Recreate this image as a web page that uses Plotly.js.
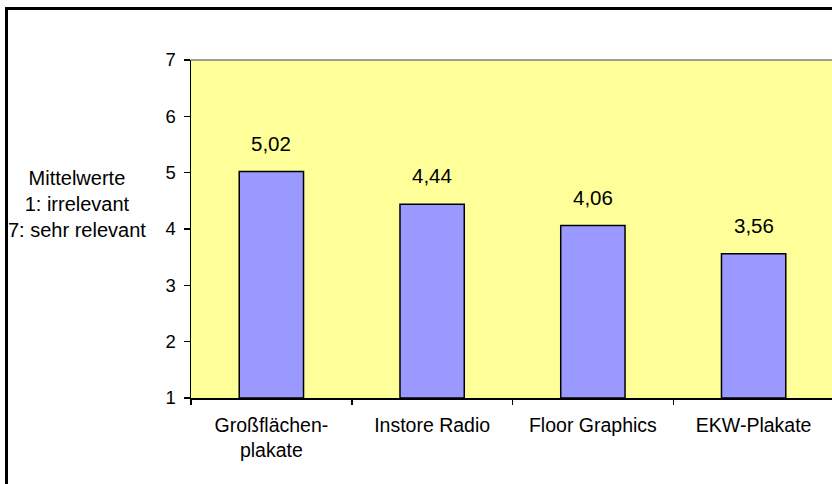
<!DOCTYPE html>
<html><head><meta charset="utf-8">
<script src="https://cdn.plot.ly/plotly-3.0.1.min.js"></script>
<style>
html,body{margin:0;padding:0;overflow:hidden;width:832px;height:484px;background:#fff;}
#chart{position:absolute;left:0;top:0;width:836px;height:484px;}
#frame{position:absolute;left:5px;top:7px;width:900px;height:600px;border:3px solid #000;pointer-events:none;}
</style></head><body>
<div id="chart"></div><div id="frame"></div>
<script>
const categories = ["Großflächen-<br>plakate", "Instore Radio", "Floor Graphics", "EKW-Plakate"];
const values = [5.02, 4.44, 4.06, 3.56];
const yTickVals = [1, 2, 3, 4, 5, 6, 7];
const yTitleLines = ["Mittelwerte", "1: irrelevant", "7: sehr relevant"];

const FONT = "Liberation Sans, Arial, sans-serif";
const fmt = v => v.toFixed(2).replace('.', ',');

const trace = {
  type: 'bar',
  x: categories,
  y: values.map(v => v - 1),
  base: 1,
  width: 0.4,
  marker: {color: '#9999FF', line: {color: '#000000', width: 1.5}},
  hoverinfo: 'skip'
};

const annotations = values.map((v, i) => ({
  x: categories[i], y: v, xref: 'x', yref: 'y',
  text: fmt(v), showarrow: false, yanchor: 'bottom', yshift: 15,
  font: {family: FONT, size: 20.5, color: '#000'}
}));
annotations.push({
  xref: 'paper', yref: 'paper', x: 0, y: 0.574, xanchor: 'right', yanchor: 'middle',
  xshift: -43, align: 'center', showarrow: false,
  text: yTitleLines.join('<br>'),
  font: {family: FONT, size: 20, color: '#000'}
});

const layout = {
  width: 836, height: 484,
  margin: {l: 191, r: 2, t: 60, b: 86},
  paper_bgcolor: '#ffffff',
  plot_bgcolor: '#FFFF99',
  showlegend: false,
  font: {family: FONT, size: 19, color: '#000'},
  xaxis: {
    type: 'category', range: [-0.5, 3.5],
    showline: true, linecolor: '#000', linewidth: 1.5,
    ticks: 'outside', tickson: 'boundaries', ticklen: 5, tickcolor: '#000', tickwidth: 1.5,
    showgrid: false, zeroline: false,
    tickfont: {family: FONT, size: 19.5, color: '#000'},
    ticklabelstandoff: 9
  },
  yaxis: {
    range: [1, 7], tickvals: yTickVals, ticktext: yTickVals.map(String),
    showline: true, linecolor: '#000', linewidth: 1.5,
    ticks: 'outside', ticklen: 6, tickcolor: '#000', tickwidth: 1.5,
    showgrid: false, zeroline: false,
    tickfont: {family: FONT, size: 18.5, color: '#000'},
    ticklabelstandoff: 4
  },
  shapes: [{type: 'line', xref: 'paper', yref: 'paper', x0: 0, x1: 1, y0: 1, y1: 1,
            line: {color: '#808080', width: 1.5}}],
  annotations: annotations
};

Plotly.newPlot('chart', [trace], layout, {displayModeBar: false, staticPlot: true});
</script>
</body></html>
